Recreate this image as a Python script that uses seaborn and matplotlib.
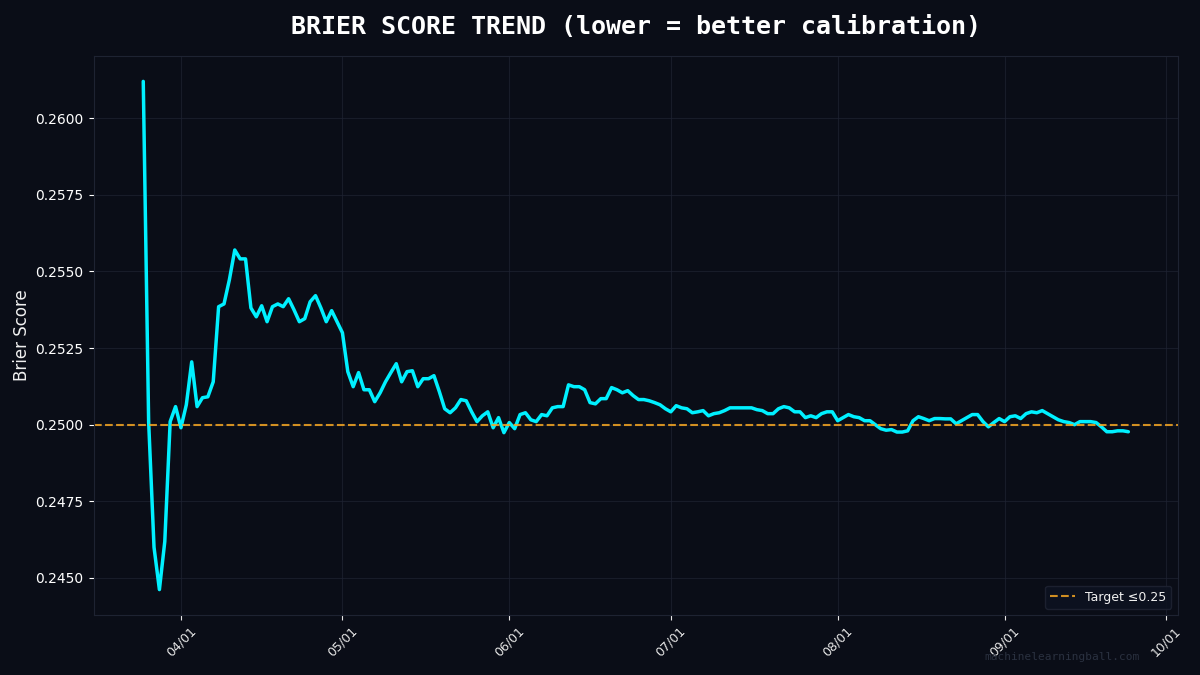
import matplotlib
matplotlib.use("Agg")
import matplotlib.pyplot as plt
import matplotlib.dates as mdates
import pandas as pd
import seaborn as sns

START_DATE = "2025-03-25"
brier = [
    .2612, .2501, .2460, .24462, .24619, .2501, .25059, .2499, .25065, .25205,
    .25059, .25088, .25091, .2514, .25385, .25394, .25473, .2557, .25541, .25541,
    .25381, .25352, .25388, .25336, .25385, .25394, .25385, .25411, .25375, .25336,
    .25346, .25401, .25421, .25381, .25336, .25372, .25336, .2530, .25173, .25124,
    .2517, .25114, .25114, .25075, .25104, .2514, .2517, .25199, .2514, .25173,
    .25176, .25124, .2515, .2515, .2516, .25108, .25052, .25039, .25055, .25082,
    .25078, .25042, .2501, .25029, .25042, .2499, .25023, .24974, .25007, .24987,
    .25033, .25039, .25016, .2501, .25033, .25029, .25055, .25059, .25059, .2513,
    .25124, .25124, .25114, .25072, .25068, .25085, .25085, .25121, .25114, .25104,
    .25111, .25095, .25082, .25082, .25078, .25072, .25065, .25052, .25042, .25062,
    .25055, .25052, .25039, .25042, .25046, .25029, .25036, .25039, .25046, .25055,
    .25055, .25055, .25055, .25055, .25049, .25046, .25036, .25036, .25052, .25059,
    .25055, .25042, .25042, .25023, .25029, .25023, .25036, .25042, .25042, .25013,
    .25023, .25033, .25026, .25023, .25013, .25013, .2500, .24987, .24982, .24984,
    .24976, .24976, .2498, .25013, .25026, .2502, .25013, .2502, .2502, .25019,
    .25019, .25003, .25013, .25023, .25033, .25033, .2501, .24993, .25007, .2502,
    .2501, .25026, .25029, .2502, .25036, .25042, .25039, .25046, .25036, .25026,
    .25016, .2501, .25007, .2500, .2501, .2501, .2501, .25007, .24993, .24977,
    .24977, .2498, .2498, .24977,
]
target = 0.25
title = "BRIER SCORE TREND (lower = better calibration)"
ylabel = "Brier Score"
legend_label = "Target ≤0.25"
watermark = "machinelearningball.com"

BG = "#0a0d17"
CYAN = "#00f0ff"
ORANGE = "#f5a623"
GRID = "#1e2332"

sns.set_theme(style="dark", rc={
    "figure.facecolor": BG, "axes.facecolor": BG, "savefig.facecolor": BG,
    "axes.edgecolor": GRID, "font.family": "DejaVu Sans",
})

df = pd.DataFrame({
    "date": pd.date_range(START_DATE, periods=len(brier), freq="D"),
    "brier": brier,
})

fig, ax = plt.subplots(figsize=(12, 6.75), dpi=100)
fig.subplots_adjust(left=94 / 1200, right=1177.6 / 1200, top=1 - 56 / 675, bottom=1 - 615 / 675)

sns.lineplot(data=df, x="date", y="brier", color=CYAN, linewidth=2.5, ax=ax, errorbar=None)
ax.axhline(target, color=ORANGE, linestyle="--", linewidth=1.5, alpha=0.85, label=legend_label)

ax.set_title(title, color="white", fontsize=18, fontweight="bold", family="DejaVu Sans Mono", pad=15.5)
ax.set_xlabel("")
ax.set_ylabel(ylabel, color="#f0f0f0", fontsize=12, labelpad=3)

ax.xaxis.set_major_locator(mdates.MonthLocator())
ax.xaxis.set_major_formatter(mdates.DateFormatter("%m/%d"))
ax.yaxis.set_major_formatter(matplotlib.ticker.FormatStrFormatter("%.4f"))
ax.tick_params(axis="x", colors="#e6e6e6", labelsize=9, labelrotation=45, length=3.5, width=0.8, bottom=True)
ax.tick_params(axis="y", colors="#ffffff", labelsize=10, length=3.5, width=0.8, left=True, pad=4)

ax.grid(True, color=GRID, linewidth=0.8, alpha=0.7)
for spine in ax.spines.values():
    spine.set_color(GRID)
    spine.set_linewidth(0.8)

leg = ax.legend(loc="lower right", fontsize=9, facecolor="#0d1220", edgecolor="#1e2332", framealpha=0.9)
for t in leg.get_texts():
    t.set_color("#f0f0f0")

fig.text(0.9495, 0.0265, watermark, color="#2a3140", fontsize=8, family="DejaVu Sans Mono", ha="right", va="center")

fig.savefig("out.png", dpi=100)
